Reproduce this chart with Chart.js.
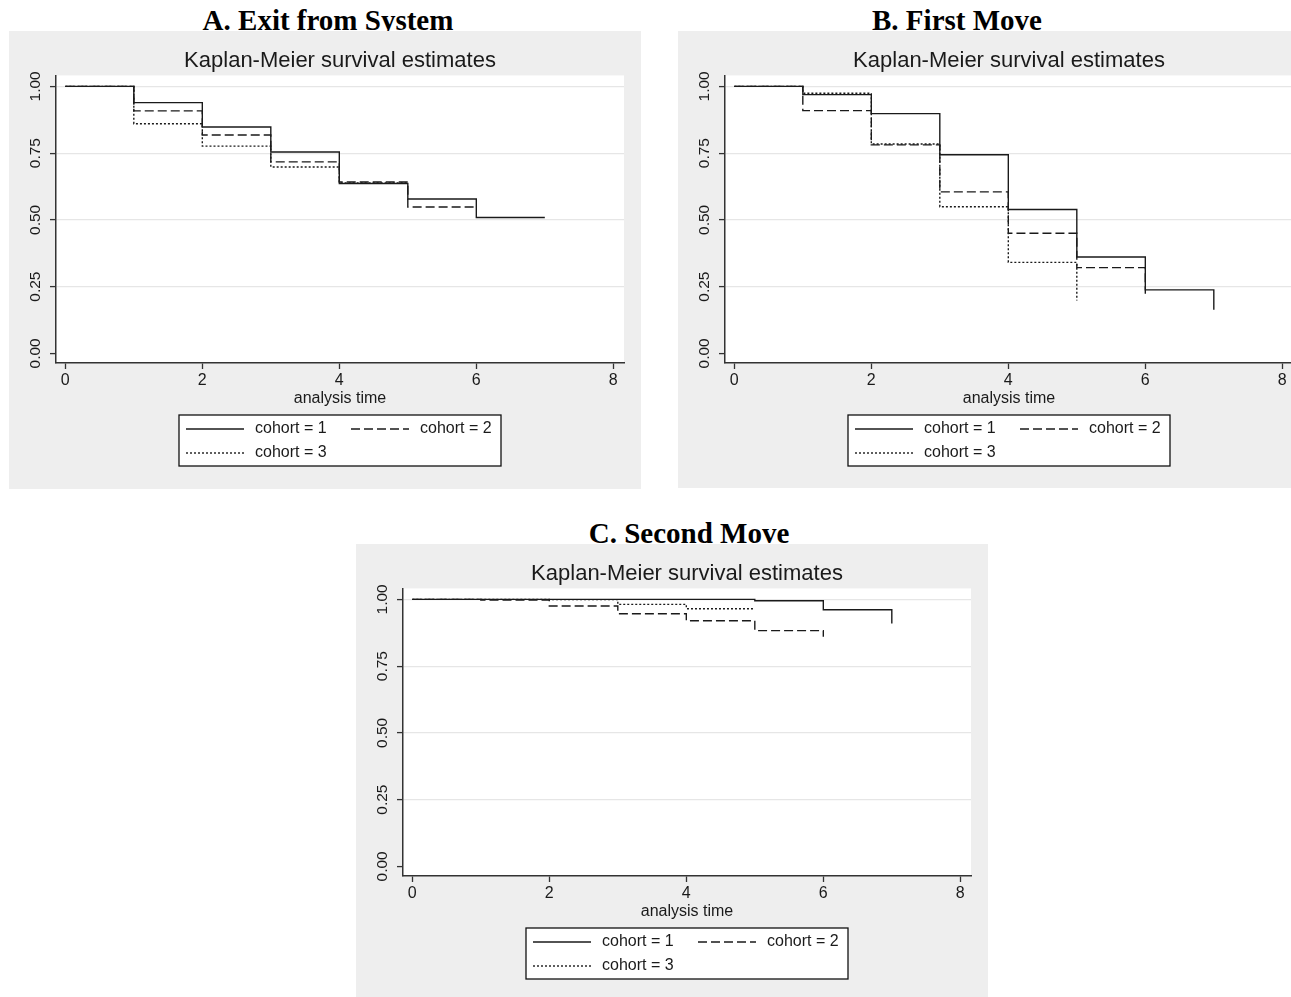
<!DOCTYPE html>
<html>
<head>
<meta charset="utf-8">
<script src="https://cdn.jsdelivr.net/npm/chart.js@4.4.0/dist/chart.umd.min.js"></script>
<style>
body{margin:0;background:#fff;overflow:hidden;width:1291px;height:997px;position:relative}
.head{position:absolute;width:400px;text-align:center;font-family:"Liberation Serif","Times New Roman",serif;font-weight:bold;font-size:29px;line-height:28px;color:#000}
.panel{position:absolute;background:#eeeeee}
canvas{display:block}
</style>
</head>
<body>
<div class="head" style="left:128px;top:6px">A. Exit from System</div>
<div class="head" style="left:757px;top:6px">B. First Move</div>
<div class="head" style="left:489px;top:519px">C. Second Move</div>

<div class="panel" style="left:9px;top:31px;width:632px;height:458px"><canvas id="chartA" width="632" height="458"></canvas></div>
<div class="panel" style="left:678px;top:31px;width:632px;height:457px"><canvas id="chartB" width="632" height="457"></canvas></div>
<div class="panel" style="left:356px;top:544px;width:632px;height:453px"><canvas id="chartC" width="632" height="453"></canvas></div>

<script>
// analysis time (years), survival, index = year
let years=[0,1,2,3,4,5,6,7]
let xTicks=[0,2,4,6,8]
let yTicks=[0,0.25,0.5,0.75,1]
let yTickLabels=['0.00','0.25','0.50','0.75','1.00']
let cohorts=['cohort = 1','cohort = 2','cohort = 3']

// A. Exit from System
let exitC1=[1,0.939,0.848,0.754,0.636,0.578,0.509,0.509]
let exitC2=[1,0.908,0.818,0.717,0.642,0.548,0.548]
let exitC3=[1,0.860,0.776,0.698,0.638,0.638]
// B. First Move
let firstC1=[1,0.969,0.898,0.744,0.539,0.361,0.238,0.163]
let firstC2=[1,0.909,0.781,0.605,0.450,0.321,0.223]
let firstC3=[1,0.974,0.784,0.549,0.341,0.198]
// C. Second Move
let secondC1=[1,1,1,1,1,0.995,0.961,0.910]
let secondC2=[1,0.997,0.975,0.946,0.920,0.883,0.860]
let secondC3=[1,1,0.999,0.981,0.965,0.965]

let dashes=[[],[9,4],[2,2]]
let sans='"Liberation Sans", Arial, sans-serif'
let ink='#1a1a1a'

const plotBg={
  id:'plotBg',
  beforeDraw(chart){
    let a=chart.chartArea, ctx=chart.ctx
    ctx.save()
    ctx.fillStyle='#fff'
    ctx.fillRect(a.left,a.top,a.right-a.left,a.bottom-a.top)
    ctx.restore()
  }
}

// y labels are rotated like in stata
const yLabels={
  id:'yLabels',
  afterDraw(chart){
    let ctx=chart.ctx, y=chart.scales.y, left=chart.chartArea.left
    ctx.save()
    ctx.font='15.5px '+sans
    ctx.fillStyle=ink
    ctx.textAlign='center'
    ctx.textBaseline='middle'
    for(let i=0;i<yTicks.length;i++){
      ctx.save()
      ctx.translate(left-20,y.getPixelForValue(yTicks[i]))
      ctx.rotate(-Math.PI/2)
      ctx.fillText(yTickLabels[i],0,0)
      ctx.restore()
    }
    ctx.restore()
  }
}

const legendBox={
  id:'legendBox',
  afterDraw(chart){
    let ctx=chart.ctx, a=chart.chartArea
    let left=(a.left+a.right)/2-161, top=a.bottom+52
    ctx.save()
    ctx.fillStyle='#fff'
    ctx.fillRect(left,top,322,51)
    ctx.strokeStyle='#111'
    ctx.lineWidth=1.3
    ctx.strokeRect(left,top,322,51)
    let spots=[[7,14],[172,14],[7,38]]
    ctx.font='16px '+sans
    ctx.textBaseline='middle'
    chart.data.datasets.forEach((ds,i)=>{
      let sx=left+spots[i][0], sy=top+spots[i][1]
      ctx.beginPath()
      ctx.setLineDash(ds.borderDash)
      ctx.strokeStyle=ds.borderColor
      ctx.lineWidth=ds.borderWidth
      ctx.moveTo(sx,sy)
      ctx.lineTo(sx+58,sy)
      ctx.stroke()
      ctx.setLineDash([])
      ctx.fillStyle=ink
      ctx.fillText(ds.label,sx+69,sy)
    })
    ctx.restore()
  }
}

function makeChart(id,series){
  let cv=document.getElementById(id)
  let sets=[]
  for(let i=0;i<series.length;i++){
    let pts=[]
    for(let j=0;j<series[i].length;j++) pts.push({x:years[j],y:series[i][j]})
    sets.push({
      label:cohorts[i],
      data:pts,
      borderColor:ink,
      borderWidth:1.4,
      borderDash:dashes[i],
      stepped:true,
      pointRadius:0,
      fill:false
    })
  }
  return new Chart(cv,{
    type:'line',
    data:{datasets:sets},
    options:{
      responsive:false,
      animation:false,
      layout:{padding:{left:0,right:17,top:0,bottom:cv.height-332-46}},
      plugins:{
        legend:{display:false},
        tooltip:{enabled:false},
        title:{
          display:true,
          text:'Kaplan-Meier survival estimates',
          fullSize:false,
          color:ink,
          font:{family:sans,size:22,weight:'normal'},
          padding:{top:17,bottom:1}
        }
      },
      scales:{
        x:{
          type:'linear',
          min:-0.136,
          max:8.156,
          afterBuildTicks:s=>{s.ticks=xTicks.map(v=>({value:v}))},
          afterFit:s=>{s.height=46},
          grid:{drawOnChartArea:false,drawTicks:true,tickLength:6,tickColor:'#333',tickWidth:1.3},
          border:{color:'#333',width:1.5},
          ticks:{color:ink,font:{family:sans,size:16},padding:2,maxRotation:0},
          title:{display:true,text:'analysis time',color:ink,font:{family:sans,size:16},padding:{top:0,bottom:1}}
        },
        y:{
          type:'linear',
          min:-0.036,
          max:1.041,
          afterBuildTicks:s=>{s.ticks=yTicks.map(v=>({value:v}))},
          afterFit:s=>{s.width=47},
          grid:{
            color:c=>(c.tick&&c.tick.value===0)?'rgba(0,0,0,0)':'#e6e6e6',
            lineWidth:1.2,
            tickLength:6,
            tickColor:'#333',
            tickWidth:1.3
          },
          border:{color:'#333',width:1.5},
          ticks:{display:false}
        }
      }
    },
    plugins:[plotBg,yLabels,legendBox]
  })
}

makeChart('chartA',[exitC1,exitC2,exitC3])
makeChart('chartB',[firstC1,firstC2,firstC3])
makeChart('chartC',[secondC1,secondC2,secondC3])
</script>
</body>
</html>
